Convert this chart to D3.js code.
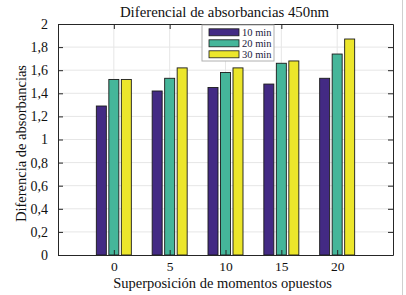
<!DOCTYPE html>
<html>
<head>
<meta charset="utf-8">
<script src="https://cdn.jsdelivr.net/npm/d3@7"></script>
<style>
  body { margin: 0; background: #fff; }
  svg { display: block; font-family: "Liberation Serif", "Times New Roman", serif; }
</style>
</head>
<body>
<script>
// grouped bars, 3 series over 5 categories
var categories = [0, 5, 10, 15, 20];
var seriesNames = ['10 min', '20 min', '30 min'];
var min10 = [1.29, 1.42, 1.45, 1.48, 1.53];
var min20 = [1.52, 1.53, 1.58, 1.66, 1.74];
var min30 = [1.52, 1.62, 1.62, 1.68, 1.87];
var yTicks = [0, 0.2, 0.4, 0.6, 0.8, 1, 1.2, 1.4, 1.6, 1.8, 2];
var colors = ['#432a84', '#45b69a', '#ece62b'];

var series = [min10, min20, min30];

var W = 406, H = 295;
var margin = {top: 24, right: 13, bottom: 40, left: 58},
    w = W - margin.left - margin.right,
    h = H - margin.top - margin.bottom;

var svg = d3.select('body').append('svg')
    .attr('width', W)
    .attr('height', H);

var g = svg.append('g')
    .attr('transform', 'translate(' + margin.left + ',' + margin.top + ')');

var xScale = d3.scaleLinear().domain([-5, 25]).range([0, w]);
var yScale = d3.scaleLinear().domain([0, 2]).range([h, 0]);

var inner = d3.scaleBand()
    .domain(d3.range(seriesNames.length))
    .range([-17.5, 17.5])
    .paddingInner(0.2);

var fmt = function (d) { return String(d).replace('.', ','); };

// grid
g.append('g').selectAll('line.gy')
  .data(yTicks.slice(1, -1))
  .enter().append('line')
  .attr('x1', 0).attr('x2', w)
  .attr('y1', function (d) { return yScale(d); })
  .attr('y2', function (d) { return yScale(d); })
  .attr('stroke', '#e6e6e6').attr('stroke-width', 1);

g.append('g').selectAll('line.gx')
  .data(categories)
  .enter().append('line')
  .attr('y1', 0).attr('y2', h)
  .attr('x1', function (d) { return xScale(d); })
  .attr('x2', function (d) { return xScale(d); })
  .attr('stroke', '#e6e6e6').attr('stroke-width', 1);

// bars
series.forEach(function (vals, s) {
  g.append('g').selectAll('rect')
    .data(vals)
    .enter().append('rect')
    .attr('x', function (d, i) { return xScale(categories[i]) + inner(s); })
    .attr('y', function (d) { return yScale(d); })
    .attr('width', inner.bandwidth())
    .attr('height', function (d) { return h - yScale(d); })
    .attr('fill', colors[s])
    .attr('stroke', '#1a1a1a')
    .attr('stroke-width', 0.9);
});

// axes (ticks pointing inward)
var yAxis = d3.axisLeft(yScale).tickValues(yTicks).tickFormat(fmt).tickSizeInner(-5).tickSizeOuter(0).tickPadding(10);
var xAxis = d3.axisBottom(xScale).tickValues(categories).tickSizeInner(-5).tickSizeOuter(0).tickPadding(6);

var ya = g.append('g').call(yAxis);
var xa = g.append('g').attr('transform', 'translate(0,' + h + ')').call(xAxis);
var ya2 = g.append('g').attr('transform', 'translate(' + w + ',0)')
  .call(d3.axisRight(yScale).tickValues(yTicks).tickSizeInner(-5).tickSizeOuter(0).tickFormat(''));
var xa2 = g.append('g')
  .call(d3.axisTop(xScale).tickValues(categories).tickSizeInner(-5).tickSizeOuter(0).tickFormat(''));

[ya, xa, ya2, xa2].forEach(function (a) {
  a.select('.domain').attr('stroke', '#262626');
  a.selectAll('.tick line').attr('stroke', '#262626');
  a.selectAll('text')
    .attr('font-family', '"Liberation Serif", serif')
    .attr('font-size', '14px')
    .attr('fill', '#111');
});
xa.selectAll('text').attr('font-size', '13.5px');

// titles
svg.append('text')
  .attr('x', margin.left + w / 2 - 1)
  .attr('y', 17)
  .attr('text-anchor', 'middle')
  .attr('font-size', '14.8px')
  .attr('fill', '#111')
  .text('Diferencial de absorbancias 450nm');

svg.append('text')
  .attr('x', margin.left + w / 2 - 3)
  .attr('y', 288)
  .attr('text-anchor', 'middle')
  .attr('font-size', '14.5px')
  .attr('fill', '#111')
  .text('Superposición de momentos opuestos');

svg.append('text')
  .attr('transform', 'translate(26,' + (margin.top + h / 2 + 4) + ') rotate(-90)')
  .attr('text-anchor', 'middle')
  .attr('font-size', '14.5px')
  .attr('fill', '#111')
  .text('Diferencia de absorbancias');

// legend
var lg = svg.append('g').attr('transform', 'translate(202,25)');
lg.append('rect')
  .attr('width', 72).attr('height', 36)
  .attr('fill', '#fff')
  .attr('stroke', '#b0b0b0');
seriesNames.forEach(function (name, s) {
  var row = lg.append('g').attr('transform', 'translate(0,' + (7.3 + s * 11) + ')');
  row.append('rect')
    .attr('x', 7).attr('y', -3.5)
    .attr('width', 30).attr('height', 7)
    .attr('fill', colors[s])
    .attr('stroke', '#1a1a1a')
    .attr('stroke-width', 0.8);
  row.append('text')
    .attr('x', 40).attr('y', 3.5)
    .attr('font-size', '10.5px')
    .attr('fill', '#1a1a3a')
    .text(name);
});

// page edge line
svg.append('line')
  .attr('x1', 402.5).attr('x2', 402.5)
  .attr('y1', 0).attr('y2', H)
  .attr('stroke', '#cfcfcf');
</script>
</body>
</html>
